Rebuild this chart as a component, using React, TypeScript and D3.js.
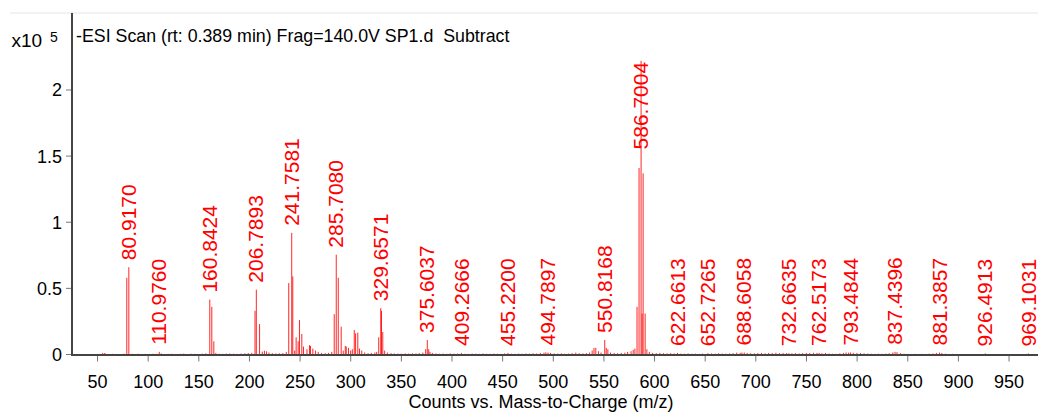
import React from 'react';
import * as d3 from 'd3';

const W = 1038;
const H = 416;
const FONT = '"Liberation Sans", Arial, Helvetica, sans-serif';

// Plot frame (pixels)
const plotLeft = 72;
const plotRight = 1038;
const plotTop = 13;
const plotBottom = 354.5;

// Axis domains
const mzDomain: [number, number] = [24.8, 978.6];
const countsMax = 2.582; // x10^5

const xTicks = [50, 100, 150, 200, 250, 300, 350, 400, 450, 500, 550, 600, 650, 700, 750, 800, 850, 900, 950];
const yTicks = [0, 0.5, 1, 1.5, 2];

const titleText = '-ESI Scan (rt: 0.389 min) Frag=140.0V SP1.d  Subtract';
const xAxisTitle = 'Counts vs. Mass-to-Charge (m/z)';

// Annotated peaks: [m/z, counts x10^5]
const labeledPeaks: [number, number][] = [
  [80.917, 0.66],
  [110.976, 0.02],
  [160.8424, 0.415],
  [206.7893, 0.49],
  [241.7581, 0.92],
  [285.708, 0.755],
  [329.6571, 0.35],
  [375.6037, 0.11],
  [409.2666, 0.012],
  [455.22, 0.012],
  [494.7897, 0.015],
  [550.8168, 0.11],
  [586.7004, 2.22],
  [622.6613, 0.012],
  [652.7265, 0.01],
  [688.6058, 0.015],
  [732.6635, 0.01],
  [762.5173, 0.012],
  [793.4844, 0.015],
  [837.4396, 0.02],
  [881.3857, 0.015],
  [926.4913, 0.008],
  [969.1031, 0.008],
];

// Isotope / cluster companions of the annotated ions
const clusterPeaks: [number, number][] = [
  [78.918, 0.58],
  [162.84, 0.36], [164.84, 0.1],
  [205.5, 0.33], [210.0, 0.23],
  [238.8, 0.54], [242.8, 0.59], [246.1, 0.13], [248.1, 0.1], [249.4, 0.26],
  [251.7, 0.155], [253.4, 0.06], [259.3, 0.07], [260.3, 0.065], [262.6, 0.045], [265.3, 0.03],
  [283.71, 0.305], [287.71, 0.58], [290.6, 0.21], [294.6, 0.065], [295.6, 0.06],
  [303.5, 0.185], [304.8, 0.16], [307.0, 0.165], [308.7, 0.045],
  [327.66, 0.13], [330.4, 0.33], [331.66, 0.17],
  [374.0, 0.04], [377.0, 0.04], [378.2, 0.02],
  [540.2, 0.05], [542.0, 0.05], [552.3, 0.05],
  [582.7, 0.36], [584.7, 1.41], [587.7, 0.31], [588.7, 1.37], [590.7, 0.31],
];

// Low-level signal along the baseline
const baselineNoise: [number, number][] = [
  [53.2, 0.004], [55.1, 0.012], [56.9, 0.01], [58.0, 0.006], [61.3, 0.004], [64.8, 0.005], [68.2, 0.003],
  [72.5, 0.004], [75.9, 0.006], [84.3, 0.005], [86.7, 0.004], [90.2, 0.006], [93.8, 0.004], [97.1, 0.005],
  [101.4, 0.004], [104.9, 0.006], [108.3, 0.005], [112.9, 0.008], [116.5, 0.004], [119.8, 0.005],
  [123.2, 0.006], [127.0, 0.004], [131.6, 0.005], [135.1, 0.007], [138.9, 0.004], [142.4, 0.006],
  [146.2, 0.005], [149.7, 0.004], [153.5, 0.006], [156.9, 0.009], [166.8, 0.012], [170.1, 0.006],
  [173.9, 0.005], [177.2, 0.007], [180.6, 0.008], [184.3, 0.006], [188.0, 0.005], [191.7, 0.007],
  [195.4, 0.009], [198.8, 0.011], [202.3, 0.012], [212.7, 0.022], [214.8, 0.028], [216.9, 0.024],
  [219.3, 0.015], [222.6, 0.01], [226.1, 0.008], [229.5, 0.009], [233.0, 0.011], [236.4, 0.02],
  [244.7, 0.03], [256.8, 0.04], [267.9, 0.02], [271.2, 0.012], [274.8, 0.01], [278.1, 0.012],
  [281.3, 0.02], [292.6, 0.03], [297.8, 0.05], [299.9, 0.03], [301.6, 0.04], [310.9, 0.03],
  [313.8, 0.015], [317.1, 0.01], [320.4, 0.012], [323.8, 0.015], [325.6, 0.02], [333.5, 0.03],
  [336.2, 0.015], [339.8, 0.01], [343.1, 0.008], [346.7, 0.007], [350.2, 0.006], [353.8, 0.008],
  [357.3, 0.007], [360.9, 0.009], [364.4, 0.008], [367.8, 0.01], [371.2, 0.015], [380.6, 0.012],
  [384.1, 0.008], [387.7, 0.006], [391.2, 0.007], [394.8, 0.005], [398.3, 0.008], [402.0, 0.006],
  [405.5, 0.007], [412.8, 0.006], [416.3, 0.005], [419.9, 0.007], [423.4, 0.006], [427.0, 0.005],
  [430.6, 0.008], [434.1, 0.006], [437.7, 0.005], [441.2, 0.007], [444.8, 0.006], [448.3, 0.005],
  [451.9, 0.008], [458.7, 0.006], [462.3, 0.005], [465.8, 0.007], [469.4, 0.006], [473.0, 0.008],
  [476.5, 0.007], [480.1, 0.009], [483.6, 0.008], [487.2, 0.012], [490.8, 0.014], [492.6, 0.016],
  [497.3, 0.012], [500.9, 0.008], [504.4, 0.007], [508.0, 0.009], [511.5, 0.006], [515.1, 0.007],
  [518.6, 0.01], [522.2, 0.014], [525.7, 0.009], [529.3, 0.008], [532.8, 0.01], [535.9, 0.015],
  [538.4, 0.03], [544.6, 0.025], [547.2, 0.015], [553.9, 0.04], [556.5, 0.015], [560.1, 0.012],
  [563.6, 0.01], [567.2, 0.012], [570.7, 0.014], [573.4, 0.02], [576.8, 0.025], [578.9, 0.035],
  [580.6, 0.045], [592.4, 0.04], [594.8, 0.02], [598.1, 0.012], [601.7, 0.01], [605.2, 0.012],
  [608.8, 0.01], [612.3, 0.008], [615.9, 0.01], [619.4, 0.008], [626.0, 0.007], [629.6, 0.006],
  [633.1, 0.008], [636.7, 0.006], [640.2, 0.007], [643.8, 0.005], [647.3, 0.007], [656.2, 0.008],
  [659.8, 0.006], [663.3, 0.01], [666.9, 0.007], [670.4, 0.006], [674.0, 0.008], [677.5, 0.01],
  [681.1, 0.014], [684.6, 0.012], [686.3, 0.015], [691.4, 0.012], [694.9, 0.01], [698.5, 0.009],
  [702.0, 0.011], [705.6, 0.012], [709.1, 0.009], [712.7, 0.012], [716.2, 0.011], [719.8, 0.013],
  [723.3, 0.01], [726.9, 0.012], [730.4, 0.011], [735.6, 0.009], [739.1, 0.01], [742.7, 0.008],
  [746.2, 0.01], [749.8, 0.012], [753.3, 0.011], [756.9, 0.013], [760.4, 0.012], [765.2, 0.01],
  [768.8, 0.012], [772.3, 0.008], [775.9, 0.006], [779.4, 0.005], [783.0, 0.009], [786.5, 0.012],
  [789.1, 0.015], [791.6, 0.014], [796.2, 0.013], [799.8, 0.012], [803.3, 0.011], [806.9, 0.009],
  [810.4, 0.007], [814.0, 0.006], [817.5, 0.005], [821.1, 0.006], [824.6, 0.005], [828.2, 0.007],
  [831.7, 0.01], [835.3, 0.016], [839.4, 0.018], [842.8, 0.01], [846.4, 0.006], [849.9, 0.005],
  [853.5, 0.004], [857.0, 0.005], [860.6, 0.004], [864.1, 0.005], [867.7, 0.004], [871.2, 0.006],
  [874.8, 0.008], [878.3, 0.012], [883.6, 0.012], [887.2, 0.006], [890.7, 0.004], [894.3, 0.005],
  [897.8, 0.004], [904.1, 0.004], [910.6, 0.003], [917.2, 0.004], [923.5, 0.003], [930.1, 0.003],
  [937.4, 0.003], [944.0, 0.003], [951.8, 0.003], [958.2, 0.003], [964.7, 0.003], [972.3, 0.003],
];

const PEAK_RED = '#ff0000';
const LABEL_SIZE = 21;

// Rough Arial advance widths for the annotation strings
function labelLength(s: string): number {
  let em = 0;
  for (const ch of s) em += ch === '.' ? 0.278 : 0.556;
  return em * LABEL_SIZE;
}

export default function App() {
  const x = d3.scaleLinear().domain(mzDomain).range([plotLeft, plotRight]);
  const y = d3.scaleLinear().domain([0, countsMax]).range([plotBottom, plotTop]);
  const yFmt = d3.format('~g');

  const sticks = [...baselineNoise, ...clusterPeaks, ...labeledPeaks];

  return (
    <svg
      width={W}
      height={H}
      style={{ position: 'absolute', left: 0, top: 0, background: '#fff' }}
      fontFamily={FONT}
    >
      {/* frame top rule */}
      <line x1={10} x2={plotRight} y1={plotTop} y2={plotTop} stroke="#e6e6e6" strokeWidth={1} />

      {/* spectrum sticks */}
      <g stroke={PEAK_RED} strokeWidth={1} strokeOpacity={0.85}>
        {sticks.map(([mz, v], i) => (
          <line key={i} x1={x(mz)} x2={x(mz)} y1={y(0)} y2={y(v)} />
        ))}
      </g>

      {/* peak annotations */}
      <g fill={PEAK_RED} fontSize={LABEL_SIZE}>
        {labeledPeaks.map(([mz, v]) => {
          const text = mz.toFixed(4);
          const len = labelLength(text);
          const top = y(v);
          const fitsAbove = top - 7 - len > plotTop;
          const anchorY = fitsAbove ? top - 7 : top + 1;
          return (
            <text
              key={text}
              transform={`translate(${x(mz)},${anchorY}) rotate(-90)`}
              textAnchor={fitsAbove ? 'start' : 'end'}
              dy="0.34em"
            >
              {text}
            </text>
          );
        })}
      </g>

      {/* y axis */}
      <g>
        {yTicks.map((t) => (
          <g key={t} transform={`translate(0,${y(t)})`}>
            <line x1={plotLeft - 6} x2={plotLeft} stroke="#777" strokeWidth={1} />
            <text x={plotLeft - 10} textAnchor="end" dy="0.36em" fontSize={18} fill="#000">
              {yFmt(t)}
            </text>
          </g>
        ))}
        <line x1={plotLeft} x2={plotLeft} y1={plotTop} y2={plotBottom + 1} stroke="#444" strokeWidth={2} />
      </g>

      {/* x axis */}
      <g>
        {xTicks.map((t) => (
          <g key={t} transform={`translate(${x(t)},0)`}>
            <line y1={plotBottom} y2={plotBottom + 7} stroke="#777" strokeWidth={1} />
            <text y={388} textAnchor="middle" fontSize={18} fill="#000">
              {t}
            </text>
          </g>
        ))}
        <line x1={plotLeft - 1} x2={plotRight} y1={plotBottom + 0.5} y2={plotBottom + 0.5} stroke="#444" strokeWidth={2} />
      </g>

      {/* scale factor */}
      <text x={11.5} y={47} fontSize={19} fill="#000">x10</text>
      <text x={50} y={41.5} fontSize={14} fill="#000">5</text>

      {/* scan description */}
      <text x={76} y={42} fontSize={17.8} fill="#000" style={{ whiteSpace: 'pre' }}>
        {titleText}
      </text>

      {/* x axis title */}
      <text x={541} y={408} textAnchor="middle" fontSize={18} fill="#000">
        {xAxisTitle}
      </text>
    </svg>
  );
}
